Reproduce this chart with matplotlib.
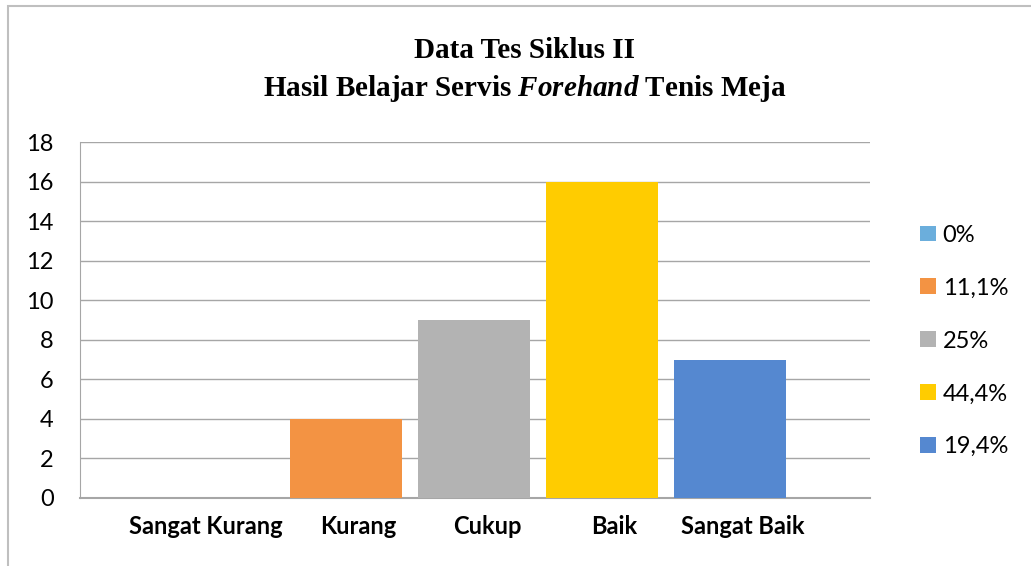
import matplotlib
matplotlib.use("Agg")
import matplotlib.pyplot as plt
from matplotlib.patches import Rectangle

# data
categories = ["Sangat Kurang", "Kurang", "Cukup", "Baik", "Sangat Baik"]
counts = [0, 4, 9, 16, 7]
percent_labels = ["0%", "11,1%", "25%", "44,4%", "19,4%"]
colors = ["#6BAEDC", "#F39343", "#B3B3B3", "#FFCC00", "#5588D0"]
y_ticks = [0, 2, 4, 6, 8, 10, 12, 14, 16, 18]

plt.rcParams["mathtext.fontset"] = "custom"
plt.rcParams["mathtext.rm"] = "Liberation Serif:bold"
plt.rcParams["mathtext.it"] = "Liberation Serif:italic:bold"

fig = plt.figure(figsize=(10.31, 5.66), dpi=100)
ax = fig.add_axes([80/1031, 1-498/566, 790/1031, 356/566])

# outer chart border (only left and top visible in the crop)
fig.patches.append(Rectangle((8/1031, -0.05), 1.2, 1-6/566+0.05,
                             transform=fig.transFigure, fill=False,
                             edgecolor="#BFBFBF", linewidth=1.5))

pos = list(range(len(categories)))
bars = ax.bar(pos, counts, width=0.875, color=colors, zorder=3)

# labels sit a little right of the bars in the original
label_pos = [-0.1, 1.09, 2.1, 3.09, 4.1]

ax.set_xlim(-1.08, 5.09)
ax.set_ylim(0, 18)
ax.set_yticks(y_ticks)
ax.set_xticks(label_pos)
ax.set_xticklabels(categories, fontfamily="Lato", fontweight="bold", fontsize=17)
for lbl in ax.get_yticklabels():
    lbl.set_fontfamily("Lato")
    lbl.set_fontsize(17)
ax.tick_params(axis="both", length=0)
ax.tick_params(axis="y", pad=19)
ax.tick_params(axis="x", pad=12)
ax.grid(axis="y", color="#A6A6A6", linewidth=1, zorder=0)

for s in ["top", "right"]:
    ax.spines[s].set_visible(False)
ax.spines["left"].set_color("#A6A6A6")
ax.spines["bottom"].set_color("#A6A6A6")
ax.spines["bottom"].set_linewidth(1.5)

fig.text(525/1031, 1-50/566, "Data Tes Siklus II", ha="center", va="center",
         fontfamily="Liberation Serif", fontweight="bold", fontsize=21)
fig.text(525/1031, 1-88/566, r"Hasil Belajar Servis $\mathit{Forehand}$ Tenis Meja",
         ha="center", va="center", fontfamily="Liberation Serif",
         fontweight="bold", fontsize=21)

leg = fig.legend(bars, percent_labels, loc="center left",
                 bbox_to_anchor=(899/1031, 1-341/566), frameon=False,
                 prop={"family": "Lato", "size": 17},
                 handlelength=0.65, handleheight=0.65, handletextpad=0.3,
                 labelspacing=1.35)

plt.savefig("out.png", dpi=100)
